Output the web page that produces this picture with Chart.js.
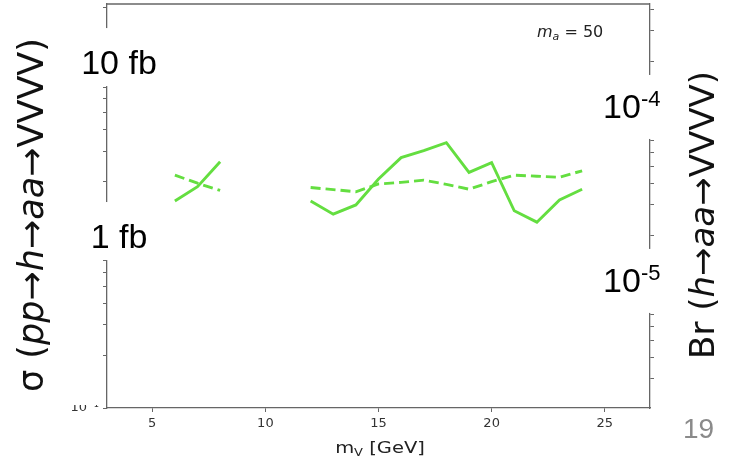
<!DOCTYPE html>
<html>
<head>
<meta charset="utf-8">
<script src="https://cdn.jsdelivr.net/npm/chart.js@4.4.1/dist/chart.umd.min.js"></script>
<style>
  body { margin: 0; background: #fff; }
  #wrap { width: 741px; height: 461px; position: relative; }
</style>
</head>
<body>
<div id="wrap"><canvas id="limits" width="741" height="461"></canvas></div>
<script>
// m_V in GeV, gap between 8 and 12
const massV = [6, 7, 8, 9, 10, 11, 12, 13, 14, 15, 16, 17, 18, 19, 20, 21, 22, 23, 24];
// observed limit on sigma (fb), solid
const observed = [1.55, 1.87, 2.60, null, null, null, 1.55, 1.30, 1.47, 2.07, 2.75, 3.02, 3.35, 2.26, 2.57, 1.36, 1.17, 1.57, 1.81];
// expected limit on sigma (fb), dashed
const expected = [2.18, 1.96, 1.78, null, null, null, 1.85, 1.80, 1.75, 1.94, 1.98, 2.04, 1.93, 1.81, 2.00, 2.18, 2.15, 2.12, 2.31];
const xTicks = [5, 10, 15, 20, 25];
const sigmaRange = [0.1, 21];
const sigmaLabels = [10, 1];        // drawn as "10 fb", "1 fb"
const brLabels = [-4, -5];          // drawn as 10^-4, 10^-5
const sigmaH = 49000;               // fb, Br = sigma / sigmaH

const green = '#64de40';
const axisGrey = '#666';

function logTicks(min, max) {
  const out = [];
  for (let e = Math.floor(Math.log10(min)); e <= Math.ceil(Math.log10(max)); e++) {
    for (let s = 1; s < 10; s++) {
      const v = s * Math.pow(10, e);
      if (v >= min * 0.999 && v <= max * 1.001) out.push({ value: v });
    }
  }
  return out;
}

function richText(ctx, parts, cx, cy, size) {
  const fontOf = p => `${p.it ? 'italic ' : ''}${size}px "DejaVu Sans"`;
  let total = 0;
  parts.forEach(p => { ctx.font = fontOf(p); total += ctx.measureText(p.t).width; });
  let x = cx - total / 2;
  ctx.textAlign = 'left';
  ctx.textBaseline = 'middle';
  parts.forEach(p => {
    ctx.font = fontOf(p);
    ctx.fillText(p.t, x, cy);
    x += ctx.measureText(p.t).width;
  });
}

const overlay = {
  id: 'overlay',
  afterDraw(chart) {
    const { ctx, chartArea: a, scales } = chart;
    ctx.save();

    // top frame
    ctx.strokeStyle = axisGrey;
    ctx.lineWidth = 1.3;
    ctx.beginPath();
    ctx.moveTo(a.left, a.top);
    ctx.lineTo(a.right, a.top);
    ctx.stroke();

    // cropped 10^-1 label at the bottom left
    ctx.save();
    ctx.beginPath();
    ctx.rect(40, 405, 65, 20);
    ctx.clip();
    ctx.fillStyle = '#333';
    ctx.font = '13px "DejaVu Sans"';
    ctx.textAlign = 'right';
    ctx.textBaseline = 'middle';
    ctx.fillText('10\u207B\u00B9', 99, 408);
    ctx.restore();

    // big sigma labels on the left, white boxes hide the axis
    ctx.font = '34px "Liberation Sans"';
    ctx.textAlign = 'center';
    ctx.textBaseline = 'alphabetic';
    sigmaLabels.forEach(v => {
      const base = scales.y.getPixelForValue(v) + 14;
      ctx.fillStyle = '#fff';
      ctx.fillRect(74, base - 46, 90, 58);
      ctx.fillStyle = '#000';
      ctx.fillText(`${v} fb`, 119, base);
    });

    // big Br labels on the right
    brLabels.forEach(e => {
      const base = scales.y2.getPixelForValue(Math.pow(10, e)) + 4;
      ctx.fillStyle = '#fff';
      ctx.fillRect(598, base - 43, 68, 64);
      ctx.fillStyle = '#000';
      ctx.textAlign = 'left';
      ctx.font = '34px "Liberation Sans"';
      ctx.fillText('10', 603, base);
      ctx.font = '22px "Liberation Sans"';
      ctx.fillText(`${e}`, 641, base - 12);
    });

    // rotated axis titles
    ctx.fillStyle = '#111';
    ctx.save();
    ctx.translate(34, 215);
    ctx.rotate(-Math.PI / 2);
    richText(ctx, [
      { t: '\u03C3 (' }, { t: 'pp', it: true }, { t: '\u2192' }, { t: 'h', it: true },
      { t: '\u2192' }, { t: 'aa', it: true }, { t: '\u2192VVVV)' }
    ], 0, 0, 35);
    ctx.restore();

    ctx.save();
    ctx.translate(705, 215);
    ctx.rotate(-Math.PI / 2);
    richText(ctx, [
      { t: 'Br (' }, { t: 'h', it: true }, { t: '\u2192' }, { t: 'aa', it: true }, { t: '\u2192VVVV)' }
    ], 0, 0, 34);
    ctx.restore();

    // x axis title m_V [GeV], slightly stretched like the slide
    ctx.save();
    ctx.translate(380, 453);
    ctx.scale(1.3, 1);
    ctx.fillStyle = '#222';
    ctx.textBaseline = 'alphabetic';
    ctx.textAlign = 'left';
    ctx.font = '15px "DejaVu Sans"';
    const wM = ctx.measureText('m').width;
    ctx.font = '10px "DejaVu Sans"';
    const wV = ctx.measureText('V').width;
    ctx.font = '15px "DejaVu Sans"';
    const wG = ctx.measureText(' [GeV]').width;
    let x = -(wM + wV + wG) / 2;
    ctx.fillText('m', x, 0); x += wM;
    ctx.font = '10px "DejaVu Sans"';
    ctx.fillText('V', x, 3); x += wV;
    ctx.font = '15px "DejaVu Sans"';
    ctx.fillText(' [GeV]', x, 0);
    ctx.restore();

    // m_a = 50
    ctx.fillStyle = '#222';
    ctx.textAlign = 'left';
    ctx.font = 'italic 16px "DejaVu Sans"';
    ctx.fillText('m', 537, 37);
    let mx = 537 + ctx.measureText('m').width;
    ctx.font = 'italic 11px "DejaVu Sans"';
    ctx.fillText('a', mx, 40);
    mx += ctx.measureText('a').width;
    ctx.font = '16px "DejaVu Sans"';
    ctx.fillText(' = 50', mx, 37);

    // slide number
    ctx.fillStyle = '#8a8a8a';
    ctx.font = '28px "Liberation Sans"';
    ctx.fillText('19', 683, 438);

    ctx.restore();
  }
};

const toPoints = ys => massV.map((x, i) => ({ x, y: ys[i] }));

new Chart(document.getElementById('limits'), {
  type: 'line',
  data: {
    datasets: [
      {
        label: 'observed',
        data: toPoints(observed),
        borderColor: green,
        borderWidth: 2.9,
        pointRadius: 0,
        spanGaps: false,
        yAxisID: 'y'
      },
      {
        label: 'expected',
        data: toPoints(expected),
        borderColor: green,
        borderWidth: 2.9,
        borderDash: [10, 5],
        pointRadius: 0,
        spanGaps: false,
        yAxisID: 'y'
      }
    ]
  },
  plugins: [overlay],
  options: {
    responsive: false,
    animation: false,
    devicePixelRatio: 1,
    layout: { padding: { top: 4, left: 0, right: 0, bottom: 0 } },
    plugins: { legend: { display: false }, tooltip: { enabled: false } },
    scales: {
      x: {
        type: 'linear',
        min: 3,
        max: 27,
        afterBuildTicks: s => { s.ticks = xTicks.map(v => ({ value: v })); },
        afterFit: s => { s.height = 53; },
        border: { color: axisGrey, width: 1.3 },
        grid: { drawOnChartArea: false, drawTicks: true, tickLength: 4, tickColor: axisGrey },
        ticks: { color: '#333', font: { family: 'DejaVu Sans', size: 13 }, padding: 4, maxRotation: 0 }
      },
      y: {
        type: 'logarithmic',
        position: 'left',
        min: sigmaRange[0],
        max: sigmaRange[1],
        afterBuildTicks: s => { s.ticks = logTicks(sigmaRange[0], sigmaRange[1]); },
        afterFit: s => { s.width = 107; },
        border: { color: axisGrey, width: 1.3 },
        grid: { drawOnChartArea: false, drawTicks: true, tickLength: 4, tickColor: axisGrey },
        ticks: { display: false }
      },
      y2: {
        type: 'logarithmic',
        position: 'right',
        min: sigmaRange[0] / sigmaH,
        max: sigmaRange[1] / sigmaH,
        afterBuildTicks: s => { s.ticks = logTicks(sigmaRange[0] / sigmaH, sigmaRange[1] / sigmaH); },
        afterFit: s => { s.width = 91; },
        border: { color: axisGrey, width: 1.3 },
        grid: { drawOnChartArea: false, drawTicks: true, tickLength: 4, tickColor: axisGrey },
        ticks: { display: false }
      }
    }
  }
});
</script>
</body>
</html>
